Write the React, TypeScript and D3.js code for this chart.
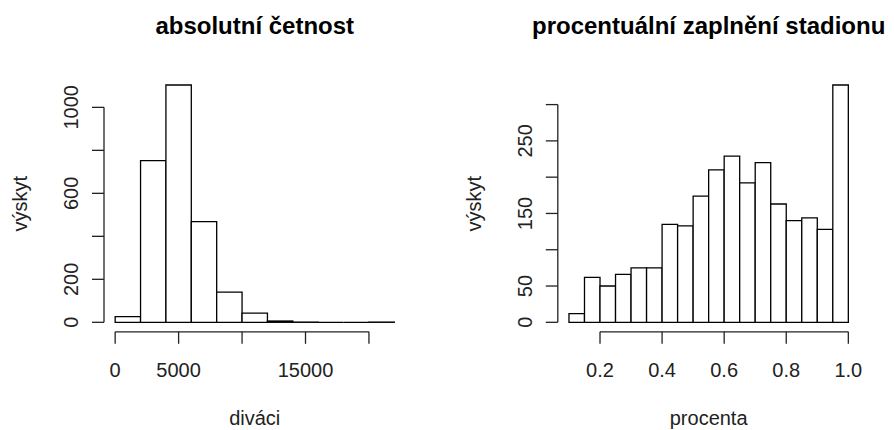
import React from "react";
import * as d3 from "d3";

// absolute counts of spectators, bins of 2000
const divaciBreaks = [0, 2000, 4000, 6000, 8000, 10000, 12000, 14000, 16000, 18000, 20000, 22000];
const divaciCounts = [26, 752, 1104, 468, 140, 43, 6, 1, 0, 0, 1];
const divaciXTicks = [0, 5000, 10000, 15000, 20000];
const divaciXLabels = ["0", "5000", "", "15000", ""];
const divaciYTicks = [0, 200, 400, 600, 800, 1000];
const divaciYLabels = ["0", "200", "", "600", "", "1000"];

// stadium fill ratio, bins of 0.05
const procBreaks = [0.1, 0.15, 0.2, 0.25, 0.3, 0.35, 0.4, 0.45, 0.5, 0.55, 0.6, 0.65, 0.7, 0.75, 0.8, 0.85, 0.9, 0.95, 1.0];
const procCounts = [12, 62, 50, 66, 75, 75, 135, 133, 174, 210, 229, 192, 220, 163, 140, 144, 128, 327];
const procXTicks = [0.2, 0.4, 0.6, 0.8, 1.0];
const procXLabels = ["0.2", "0.4", "0.6", "0.8", "1.0"];
const procYTicks = [0, 50, 100, 150, 200, 250, 300];
const procYLabels = ["0", "50", "", "150", "", "250", ""];

const FONT = "'Liberation Sans', Arial, Helvetica, sans-serif";

type HistProps = {
  title: string;
  xlab: string;
  breaks: number[];
  counts: number[];
  xTicks: number[];
  xLabels: string[];
  yTicks: number[];
  yLabels: string[];
  left: number;
  right: number;
};

function Hist(p: HistProps) {
  const top = 75.5;
  const bottom = 331.8;
  // R style 4% axis extension
  const xMin = p.breaks[0];
  const xMax = p.breaks[p.breaks.length - 1];
  const dx = (xMax - xMin) * 0.04;
  const x = d3.scaleLinear().domain([xMin - dx, xMax + dx]).range([p.left, p.right]);
  const yMax = d3.max(p.counts) as number;
  const y = d3.scaleLinear().domain([-yMax * 0.04, yMax * 1.04]).range([bottom, top]);
  const cx = (p.left + p.right) / 2;
  const cy = (top + bottom) / 2;
  const tick = 12;

  // bars as closed paths so empty bins still draw their baseline
  const barPath = (i: number) => {
    const path = d3.path();
    path.moveTo(x(p.breaks[i]), y(0));
    path.lineTo(x(p.breaks[i]), y(p.counts[i]));
    path.lineTo(x(p.breaks[i + 1]), y(p.counts[i]));
    path.lineTo(x(p.breaks[i + 1]), y(0));
    path.closePath();
    return path.toString();
  };

  return (
    <g fontFamily={FONT} fill="#000">
      <text x={cx} y={34} textAnchor="middle" fontSize={24} fontWeight="bold">{p.title}</text>
      {p.counts.map((c, i) => (
        <path key={i} d={barPath(i)} fill="white" stroke="#000" strokeWidth={1.3} />
      ))}
      <g stroke="#222" strokeWidth={1.3} fill="none">
        <line x1={x(p.xTicks[0])} x2={x(p.xTicks[p.xTicks.length - 1])} y1={bottom} y2={bottom} />
        {p.xTicks.map((t, i) => (
          <line key={i} x1={x(t)} x2={x(t)} y1={bottom} y2={bottom + tick} />
        ))}
        <line x1={p.left} x2={p.left} y1={y(p.yTicks[0])} y2={y(p.yTicks[p.yTicks.length - 1])} />
        {p.yTicks.map((t, i) => (
          <line key={i} x1={p.left - tick} x2={p.left} y1={y(t)} y2={y(t)} />
        ))}
      </g>
      {p.xTicks.map((t, i) => (
        <text key={i} x={x(t)} y={377} textAnchor="middle" fontSize={20} fill="#222">{p.xLabels[i]}</text>
      ))}
      {p.yTicks.map((t, i) => (
        <text key={i} transform={`translate(${p.left - 26},${y(t)}) rotate(-90)`} textAnchor="middle" fontSize={20} fill="#222">{p.yLabels[i]}</text>
      ))}
      <text x={cx} y={425} textAnchor="middle" fontSize={20} fill="#222">{p.xlab}</text>
      <text transform={`translate(${p.left - 77},${cy}) rotate(-90)`} textAnchor="middle" fontSize={20} fill="#222">výskyt</text>
    </g>
  );
}

export default function App() {
  return (
    <div style={{ position: "absolute", left: 0, top: 0 }}>
      <svg width={894} height={430} style={{ display: "block", background: "white" }}>
        <Hist title="absolutní četnost" xlab="diváci"
          breaks={divaciBreaks} counts={divaciCounts}
          xTicks={divaciXTicks} xLabels={divaciXLabels}
          yTicks={divaciYTicks} yLabels={divaciYLabels}
          left={104} right={405.5} />
        <Hist title="procentuální zaplnění stadionu" xlab="procenta"
          breaks={procBreaks} counts={procCounts}
          xTicks={procXTicks} xLabels={procXLabels}
          yTicks={procYTicks} yLabels={procYLabels}
          left={557.8} right={859.5} />
      </svg>
    </div>
  );
}
